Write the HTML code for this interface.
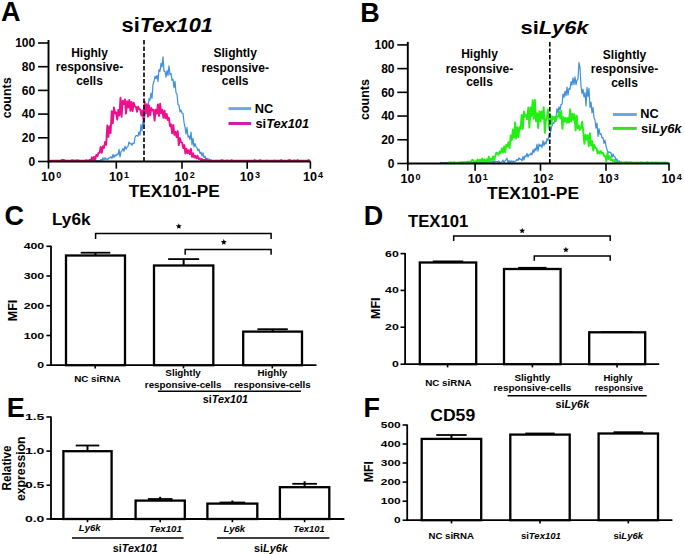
<!DOCTYPE html>
<html><head><meta charset="utf-8"><style>
html,body{margin:0;padding:0;background:#fff;}
svg{display:block;}
svg text{font-family:"Liberation Sans", sans-serif;fill:#000;}
</style></head><body>
<svg width="685" height="554" viewBox="0 0 685 554">
<rect width="685" height="554" fill="#fff"/>
<text x="1.00" y="20.60" font-size="27" text-anchor="start" font-weight="bold"><tspan>A</tspan></text>
<text x="121.50" y="31.90" font-size="19.5" text-anchor="start" font-weight="bold" textLength="91.50" lengthAdjust="spacingAndGlyphs"><tspan>si</tspan><tspan font-style="italic">Tex101</tspan></text>
<polyline points="80.00,160.70 81.00,160.70 82.00,160.70 83.00,160.70 84.00,160.70 85.00,160.70 86.00,160.29 87.00,160.70 88.00,160.70 89.00,160.46 90.00,160.05 91.00,160.70 92.00,159.91 93.00,160.70 94.00,160.70 95.00,160.70 96.00,160.69 97.00,160.70 98.00,160.55 99.00,160.64 100.00,160.70 101.00,159.39 102.00,160.70 103.00,157.77 104.00,160.13 105.00,157.65 106.00,159.45 107.00,158.66 108.00,159.50 109.00,157.81 110.00,157.88 111.00,156.76 112.00,158.37 113.00,154.40 114.00,157.51 115.00,154.87 116.00,156.04 117.00,154.08 118.00,154.90 119.00,149.41 120.00,157.02 121.00,151.41 122.00,150.81 123.00,148.37 124.00,151.42 125.00,146.08 126.00,149.19 127.00,146.97 128.00,146.41 129.00,141.87 130.00,144.11 131.00,143.30 132.00,145.24 133.00,143.07 134.00,143.72 135.00,137.34 136.00,135.68 137.00,135.50 138.00,136.24 139.00,131.86 140.00,135.22 141.00,124.63 142.00,131.09 143.00,121.03 144.00,124.59 145.00,114.38 146.00,110.48 147.00,104.80 148.00,109.75 149.00,98.63 150.00,100.23 151.00,93.05 152.00,98.47 153.00,84.35 154.00,81.28 155.00,76.33 156.00,78.73 157.00,75.28 158.00,81.37 159.00,69.59 160.00,71.35 161.00,63.40 162.00,66.98 163.00,56.75 164.00,71.30 165.00,71.26 166.00,77.09 167.00,70.57 168.00,75.40 169.00,65.80 170.00,74.72 171.00,73.36 172.00,80.33 173.00,79.23 174.00,87.65 175.00,81.28 176.00,92.78 177.00,94.41 178.00,104.58 179.00,105.13 180.00,111.90 181.00,109.96 182.00,113.19 183.00,113.44 184.00,122.14 185.00,127.34 186.00,134.01 187.00,127.44 188.00,137.10 189.00,135.98 190.00,139.68 191.00,131.99 192.00,144.81 193.00,138.22 194.00,146.89 195.00,143.49 196.00,146.86 197.00,147.81 198.00,150.71 199.00,149.17 200.00,153.67 201.00,152.18 202.00,156.17 203.00,152.83 204.00,157.52 205.00,156.16 206.00,159.48 207.00,158.51 208.00,159.53 209.00,158.86 210.00,160.70 211.00,159.63 212.00,160.70 213.00,160.70 214.00,160.70 215.00,160.70 216.00,160.35 217.00,160.70 218.00,160.70 219.00,160.70 220.00,160.70 221.00,160.21 222.00,160.70 223.00,160.08 224.00,160.54 225.00,160.70 226.00,160.70 227.00,160.70 228.00,160.70" fill="none" stroke="#3f8fdc" stroke-width="1.2" stroke-linejoin="round"/>
<polyline points="49.00,160.70 50.10,160.70 51.20,160.70 52.30,160.69 53.40,160.70 54.50,160.70 55.60,160.70 56.70,160.70 57.80,160.70 58.90,160.70 60.00,160.70 61.10,160.35 62.20,159.98 63.30,160.04 64.40,160.15 65.50,160.70 66.60,160.70 67.70,160.70 68.80,160.65 69.90,160.70 71.00,160.70 72.10,159.91 73.20,160.70 74.30,160.36 75.40,160.45 76.50,160.70 77.60,160.14 78.70,160.56 79.80,160.70 80.90,160.70 82.00,160.70 83.10,160.70 84.20,160.70 85.30,160.70 86.40,160.12 87.50,160.70 88.60,160.70 89.70,159.88 90.80,160.70 91.90,157.32 93.00,160.70 94.10,156.80 95.20,159.84 96.30,154.85 97.40,156.27 98.50,152.95 99.60,152.80 100.70,146.92 101.80,152.91 102.90,146.29 104.00,147.91 105.10,141.88 106.20,144.80 107.30,125.37 108.40,136.82 109.50,126.19 110.60,133.12 111.70,111.31 112.80,123.36 113.90,107.55 115.00,113.25 116.10,112.29 117.20,119.66 118.30,109.92 119.40,115.43 120.50,97.65 121.60,116.69 122.70,100.75 123.80,104.00 124.90,99.36 126.00,113.64 127.10,101.32 128.20,107.50 129.30,99.87 130.40,110.79 131.50,101.87 132.60,111.11 133.70,102.71 134.80,106.40 135.90,106.90 137.00,111.71 138.10,106.61 139.20,109.25 140.30,109.53 141.40,115.48 142.50,110.49 143.60,120.29 144.70,102.02 145.80,113.49 146.90,104.31 148.00,116.55 149.10,105.43 150.20,115.32 151.30,107.89 152.40,110.57 153.50,109.64 154.60,120.67 155.70,109.60 156.80,113.64 157.90,104.43 159.00,115.93 160.10,103.72 161.20,113.31 162.30,109.62 163.40,117.79 164.50,110.62 165.60,118.41 166.70,113.87 167.80,120.14 168.90,117.85 170.00,126.24 171.10,124.38 172.20,133.33 173.30,124.96 174.40,134.86 175.50,131.82 176.60,137.17 177.70,131.06 178.80,145.07 179.90,138.07 181.00,142.01 182.10,142.54 183.20,148.12 184.30,145.08 185.40,153.52 186.50,148.75 187.60,153.19 188.70,150.21 189.80,154.18 190.90,148.83 192.00,156.88 193.10,153.15 194.20,157.56 195.30,155.76 196.40,158.33 197.50,155.73 198.60,158.96 199.70,158.29 200.80,160.09 201.90,159.01 203.00,160.70 204.10,159.68 205.20,160.70 206.30,159.03 207.40,160.70 208.50,160.70 209.60,160.70 210.70,160.70 211.80,160.70 212.90,160.70 214.00,160.70 215.10,160.70 216.20,160.70 217.30,160.70 218.40,160.70 219.50,160.70 220.60,160.70 221.70,160.16 222.80,160.50 223.90,160.70 225.00,160.70 226.10,160.70 227.20,160.35 228.30,160.70 229.40,160.70 230.50,160.70 231.60,160.19 232.70,160.70 233.80,160.70 234.90,160.70 236.00,160.70 237.10,160.70 238.20,160.70 239.30,160.70 240.40,160.70 241.50,160.70 242.60,160.70 243.70,160.70 244.80,160.70 245.90,160.70 247.00,160.70 248.10,160.70 249.20,160.70 250.30,160.70 251.40,160.70 252.50,160.70 253.60,160.70 254.70,159.99 255.80,160.70 256.90,160.70 258.00,160.70 259.10,160.70 260.20,160.03 261.30,160.70 262.40,160.70 263.50,160.70 264.60,160.70 265.70,160.66 266.80,160.45 267.90,160.60 269.00,160.70 270.10,160.70 271.20,160.70 272.30,160.70 273.40,160.70 274.50,160.52 275.60,160.70 276.70,160.70 277.80,160.70 278.90,160.70 280.00,160.70 281.10,159.97 282.20,160.70 283.30,160.70 284.40,160.70 285.50,160.70 286.60,160.70 287.70,160.70 288.80,160.21 289.90,160.03 291.00,160.70 292.10,160.70 293.20,160.70 294.30,160.30 295.40,160.70 296.50,160.70 297.60,159.96 298.70,160.70 299.80,160.70 300.90,160.70 302.00,160.70 303.10,160.70 304.20,160.70 305.30,160.70 306.40,160.70 307.50,160.70 308.60,160.06 309.70,160.70" fill="none" stroke="#ee0f8c" stroke-width="1.9" stroke-linejoin="round"/>
<line x1="48.50" y1="40.00" x2="48.50" y2="162.40" stroke="#000" stroke-width="1.9" />
<line x1="47.60" y1="161.50" x2="310.60" y2="161.50" stroke="#000" stroke-width="1.9" />
<line x1="38.00" y1="161.50" x2="48.50" y2="161.50" stroke="#000" stroke-width="1.6" />
<text x="35.20" y="165.80" font-size="12" text-anchor="end" font-weight="bold"><tspan>0</tspan></text>
<line x1="38.00" y1="137.80" x2="48.50" y2="137.80" stroke="#000" stroke-width="1.6" />
<text x="35.20" y="142.10" font-size="12" text-anchor="end" font-weight="bold"><tspan>20</tspan></text>
<line x1="38.00" y1="114.10" x2="48.50" y2="114.10" stroke="#000" stroke-width="1.6" />
<text x="35.20" y="118.40" font-size="12" text-anchor="end" font-weight="bold"><tspan>40</tspan></text>
<line x1="38.00" y1="90.40" x2="48.50" y2="90.40" stroke="#000" stroke-width="1.6" />
<text x="35.20" y="94.70" font-size="12" text-anchor="end" font-weight="bold"><tspan>60</tspan></text>
<line x1="38.00" y1="66.70" x2="48.50" y2="66.70" stroke="#000" stroke-width="1.6" />
<text x="35.20" y="71.00" font-size="12" text-anchor="end" font-weight="bold"><tspan>80</tspan></text>
<line x1="38.00" y1="43.00" x2="48.50" y2="43.00" stroke="#000" stroke-width="1.6" />
<text x="35.20" y="47.30" font-size="12" text-anchor="end" font-weight="bold"><tspan>100</tspan></text>
<line x1="48.50" y1="161.50" x2="48.50" y2="168.70" stroke="#000" stroke-width="1.6" />
<text x="41.10" y="181.20" font-size="13" text-anchor="start" font-weight="bold" textLength="14.00" lengthAdjust="spacingAndGlyphs"><tspan>10</tspan></text>
<text x="56.20" y="177.60" font-size="9" text-anchor="start" font-weight="bold"><tspan>0</tspan></text>
<line x1="116.30" y1="161.50" x2="116.30" y2="168.70" stroke="#000" stroke-width="1.6" />
<text x="108.90" y="181.20" font-size="13" text-anchor="start" font-weight="bold" textLength="14.00" lengthAdjust="spacingAndGlyphs"><tspan>10</tspan></text>
<text x="124.00" y="177.60" font-size="9" text-anchor="start" font-weight="bold"><tspan>1</tspan></text>
<line x1="182.00" y1="161.50" x2="182.00" y2="168.70" stroke="#000" stroke-width="1.6" />
<text x="174.60" y="181.20" font-size="13" text-anchor="start" font-weight="bold" textLength="14.00" lengthAdjust="spacingAndGlyphs"><tspan>10</tspan></text>
<text x="189.70" y="177.60" font-size="9" text-anchor="start" font-weight="bold"><tspan>2</tspan></text>
<line x1="247.20" y1="161.50" x2="247.20" y2="168.70" stroke="#000" stroke-width="1.6" />
<text x="239.80" y="181.20" font-size="13" text-anchor="start" font-weight="bold" textLength="14.00" lengthAdjust="spacingAndGlyphs"><tspan>10</tspan></text>
<text x="254.90" y="177.60" font-size="9" text-anchor="start" font-weight="bold"><tspan>3</tspan></text>
<line x1="310.40" y1="161.50" x2="310.40" y2="168.70" stroke="#000" stroke-width="1.6" />
<text x="303.00" y="181.20" font-size="13" text-anchor="start" font-weight="bold" textLength="14.00" lengthAdjust="spacingAndGlyphs"><tspan>10</tspan></text>
<text x="318.10" y="177.60" font-size="9" text-anchor="start" font-weight="bold"><tspan>4</tspan></text>
<line x1="144.00" y1="40.00" x2="144.00" y2="161.50" stroke="#000" stroke-width="1.6" stroke-dasharray="4.6 1.9"/>
<line x1="228.50" y1="108.60" x2="251.20" y2="108.60" stroke="#6fa5e2" stroke-width="3" />
<line x1="228.50" y1="123.50" x2="251.20" y2="123.50" stroke="#d01fb0" stroke-width="3" />
<text x="254.70" y="112.50" font-size="12.8" text-anchor="start" font-weight="bold"><tspan>NC</tspan></text>
<text x="255.50" y="127.70" font-size="12.8" text-anchor="start" font-weight="bold" textLength="53.50" lengthAdjust="spacingAndGlyphs"><tspan>si</tspan><tspan font-style="italic">Tex101</tspan></text>
<text x="89.50" y="56.50" font-size="12" text-anchor="middle" font-weight="bold"><tspan>Highly</tspan></text>
<text x="89.50" y="70.50" font-size="12" text-anchor="middle" font-weight="bold"><tspan>responsive-</tspan></text>
<text x="89.50" y="84.60" font-size="12" text-anchor="middle" font-weight="bold"><tspan>cells</tspan></text>
<text x="235.20" y="57.30" font-size="12" text-anchor="middle" font-weight="bold"><tspan>Slightly</tspan></text>
<text x="235.20" y="71.50" font-size="12" text-anchor="middle" font-weight="bold"><tspan>responsive-</tspan></text>
<text x="235.20" y="85.00" font-size="12" text-anchor="middle" font-weight="bold"><tspan>cells</tspan></text>
<text x="128.80" y="197.40" font-size="16" text-anchor="start" font-weight="bold" textLength="91.00" lengthAdjust="spacingAndGlyphs"><tspan>TEX101-PE</tspan></text>
<text x="11.20" y="97.80" font-size="12.5" text-anchor="middle" font-weight="bold" transform="rotate(-90 11.20 97.80)"><tspan>counts</tspan></text>
<text x="360.20" y="21.90" font-size="27" text-anchor="start" font-weight="bold"><tspan>B</tspan></text>
<text x="520.50" y="33.60" font-size="18.5" text-anchor="start" font-weight="bold" textLength="68.00" lengthAdjust="spacingAndGlyphs"><tspan>si</tspan><tspan font-style="italic">Ly6k</tspan></text>
<polyline points="440.00,162.15 441.00,162.70 442.00,162.70 443.00,162.70 444.00,162.70 445.00,162.70 446.00,162.70 447.00,162.70 448.00,162.70 449.00,162.40 450.00,162.70 451.00,162.06 452.00,162.70 453.00,162.70 454.00,161.90 455.00,162.70 456.00,162.70 457.00,162.70 458.00,162.44 459.00,162.70 460.00,161.94 461.00,162.70 462.00,162.05 463.00,161.96 464.00,162.70 465.00,162.70 466.00,162.70 467.00,162.70 468.00,162.67 469.00,162.70 470.00,162.70 471.00,162.70 472.00,162.70 473.00,162.70 474.00,162.70 475.00,162.70 476.00,162.70 477.00,162.70 478.00,162.70 479.00,162.13 480.00,162.70 481.00,161.90 482.00,162.70 483.00,161.97 484.00,162.70 485.00,160.52 486.00,162.70 487.00,162.00 488.00,162.70 489.00,161.93 490.00,162.30 491.00,160.96 492.00,162.70 493.00,160.45 494.00,162.70 495.00,160.80 496.00,162.07 497.00,161.57 498.00,162.37 499.00,160.96 500.00,162.70 501.00,162.38 502.00,161.64 503.00,160.12 504.00,162.40 505.00,160.78 506.00,159.97 507.00,158.03 508.00,162.64 509.00,160.53 510.00,162.70 511.00,160.68 512.00,162.04 513.00,160.85 514.00,162.27 515.00,161.08 516.00,161.03 517.00,159.40 518.00,160.28 519.00,157.84 520.00,159.45 521.00,159.06 522.00,160.87 523.00,156.43 524.00,160.04 525.00,155.73 526.00,156.83 527.00,153.42 528.00,157.10 529.00,154.34 530.00,154.91 531.00,153.04 532.00,154.98 533.00,149.65 534.00,152.65 535.00,148.34 536.00,150.66 537.00,144.22 538.00,151.16 539.00,143.97 540.00,146.50 541.00,144.73 542.00,147.63 543.00,140.53 544.00,145.92 545.00,141.97 546.00,144.10 547.00,138.66 548.00,140.77 549.00,133.86 550.00,133.50 551.00,129.75 552.00,125.72 553.00,122.58 554.00,123.44 555.00,117.11 556.00,116.77 557.00,108.67 558.00,112.66 559.00,106.77 560.00,110.13 561.00,104.64 562.00,104.23 563.00,93.97 564.00,97.40 565.00,91.25 566.00,95.91 567.00,87.01 568.00,95.13 569.00,88.43 570.00,89.32 571.00,81.60 572.00,85.02 573.00,77.86 574.00,84.62 575.00,76.85 576.00,84.77 577.00,80.25 578.00,78.93 579.00,62.67 580.00,67.69 581.00,86.08 582.00,93.63 583.00,89.18 584.00,96.98 585.00,92.60 586.00,105.90 587.00,87.35 588.00,96.67 589.00,88.43 590.00,107.47 591.00,102.13 592.00,112.93 593.00,107.31 594.00,117.70 595.00,120.08 596.00,128.16 597.00,123.01 598.00,136.47 599.00,128.69 600.00,134.42 601.00,133.74 602.00,137.79 603.00,137.61 604.00,143.36 605.00,140.07 606.00,146.22 607.00,149.58 608.00,152.97 609.00,151.73 610.00,152.49 611.00,152.68 612.00,157.58 613.00,153.88 614.00,156.65 615.00,156.56 616.00,160.48 617.00,158.82 618.00,162.66 619.00,160.67 620.00,162.30 621.00,161.96 622.00,162.61 623.00,162.48 624.00,162.70 625.00,162.00 626.00,162.70 627.00,162.12 628.00,162.70 629.00,162.70 630.00,162.70 631.00,162.70 632.00,162.70" fill="none" stroke="#3f8fdc" stroke-width="1.2" stroke-linejoin="round"/>
<polyline points="448.00,162.70 449.10,162.68 450.20,162.70 451.30,162.60 452.40,162.70 453.50,162.70 454.60,162.70 455.70,162.70 456.80,162.70 457.90,162.70 459.00,162.70 460.10,162.70 461.20,162.70 462.30,162.70 463.40,162.70 464.50,161.98 465.60,162.70 466.70,161.77 467.80,162.57 468.90,161.58 470.00,162.70 471.10,161.33 472.20,159.67 473.30,160.57 474.40,162.70 475.50,161.14 476.60,161.93 477.70,159.43 478.80,162.70 479.90,159.71 481.00,162.16 482.10,158.42 483.20,161.57 484.30,159.32 485.40,162.54 486.50,159.28 487.60,162.49 488.70,156.75 489.80,161.57 490.90,158.78 492.00,159.43 493.10,156.44 494.20,159.65 495.30,156.04 496.40,152.66 497.50,153.37 498.60,154.83 499.70,151.46 500.80,152.87 501.90,148.43 503.00,152.37 504.10,146.47 505.20,152.21 506.30,144.72 507.40,146.58 508.50,142.11 509.60,148.08 510.70,135.39 511.80,140.26 512.90,129.41 514.00,137.70 515.10,122.41 516.20,138.59 517.30,127.32 518.40,137.09 519.50,127.14 520.60,128.63 521.70,114.84 522.80,128.91 523.90,111.54 525.00,116.66 526.10,115.08 527.20,119.38 528.30,107.56 529.40,127.62 530.50,107.52 531.60,116.15 532.70,100.19 533.80,118.75 534.90,99.87 536.00,121.25 537.10,113.23 538.20,127.97 539.30,111.28 540.40,121.44 541.50,111.53 542.60,118.91 543.70,107.32 544.80,132.87 545.90,119.87 547.00,116.70 548.10,109.32 549.20,128.83 550.30,114.68 551.40,123.86 552.50,116.47 553.60,118.97 554.70,117.02 555.80,121.16 556.90,116.38 558.00,116.88 559.10,111.42 560.20,118.37 561.30,110.85 562.40,128.89 563.50,117.25 564.60,121.70 565.70,117.82 566.80,122.70 567.90,117.95 569.00,122.55 570.10,109.29 571.20,121.36 572.30,113.60 573.40,119.91 574.50,114.28 575.60,130.37 576.70,115.71 577.80,128.42 578.90,125.86 580.00,129.91 581.10,127.69 582.20,121.66 583.30,132.12 584.40,143.85 585.50,134.84 586.60,139.86 587.70,135.18 588.80,146.24 589.90,133.26 591.00,145.21 592.10,141.08 593.20,150.45 594.30,144.82 595.40,147.89 596.50,148.32 597.60,153.45 598.70,151.34 599.80,153.48 600.90,151.10 602.00,153.51 603.10,152.95 604.20,156.27 605.30,156.17 606.40,161.32 607.50,153.04 608.60,159.08 609.70,156.28 610.80,160.18 611.90,159.64 613.00,161.20 614.10,159.75 615.20,162.05 616.30,161.76 617.40,162.70 618.50,162.07 619.60,162.70 620.70,162.53 621.80,162.50 622.90,162.70 624.00,162.70 625.10,162.70 626.20,162.31 627.30,162.70 628.40,162.37 629.50,162.70 630.60,162.13 631.70,162.70 632.80,162.70 633.90,162.70 635.00,162.70 636.10,162.70 637.20,162.29 638.30,162.70 639.40,162.70 640.50,162.57 641.60,162.27 642.70,162.70 643.80,162.70 644.90,162.70 646.00,162.70 647.10,162.22 648.20,162.70 649.30,162.70 650.40,162.70 651.50,162.70 652.60,162.45 653.70,162.70 654.80,162.70 655.90,162.36 657.00,162.70 658.10,162.61 659.20,162.70 660.30,162.70 661.40,162.70 662.50,162.70 663.60,162.70 664.70,162.46 665.80,162.70 666.90,162.70 668.00,162.70" fill="none" stroke="#22f014" stroke-width="1.9" stroke-linejoin="round"/>
<line x1="407.80" y1="41.90" x2="407.80" y2="164.40" stroke="#000" stroke-width="1.9" />
<line x1="406.90" y1="163.50" x2="669.50" y2="163.50" stroke="#000" stroke-width="1.9" />
<line x1="397.30" y1="163.50" x2="407.80" y2="163.50" stroke="#000" stroke-width="1.6" />
<text x="394.50" y="167.80" font-size="12" text-anchor="end" font-weight="bold"><tspan>0</tspan></text>
<line x1="397.30" y1="139.78" x2="407.80" y2="139.78" stroke="#000" stroke-width="1.6" />
<text x="394.50" y="144.08" font-size="12" text-anchor="end" font-weight="bold"><tspan>20</tspan></text>
<line x1="397.30" y1="116.06" x2="407.80" y2="116.06" stroke="#000" stroke-width="1.6" />
<text x="394.50" y="120.36" font-size="12" text-anchor="end" font-weight="bold"><tspan>40</tspan></text>
<line x1="397.30" y1="92.34" x2="407.80" y2="92.34" stroke="#000" stroke-width="1.6" />
<text x="394.50" y="96.64" font-size="12" text-anchor="end" font-weight="bold"><tspan>60</tspan></text>
<line x1="397.30" y1="68.62" x2="407.80" y2="68.62" stroke="#000" stroke-width="1.6" />
<text x="394.50" y="72.92" font-size="12" text-anchor="end" font-weight="bold"><tspan>80</tspan></text>
<line x1="397.30" y1="44.90" x2="407.80" y2="44.90" stroke="#000" stroke-width="1.6" />
<text x="394.50" y="49.20" font-size="12" text-anchor="end" font-weight="bold"><tspan>100</tspan></text>
<line x1="407.80" y1="163.50" x2="407.80" y2="170.70" stroke="#000" stroke-width="1.6" />
<text x="400.40" y="183.20" font-size="13" text-anchor="start" font-weight="bold" textLength="14.00" lengthAdjust="spacingAndGlyphs"><tspan>10</tspan></text>
<text x="415.50" y="179.60" font-size="9" text-anchor="start" font-weight="bold"><tspan>0</tspan></text>
<line x1="475.10" y1="163.50" x2="475.10" y2="170.70" stroke="#000" stroke-width="1.6" />
<text x="467.70" y="183.20" font-size="13" text-anchor="start" font-weight="bold" textLength="14.00" lengthAdjust="spacingAndGlyphs"><tspan>10</tspan></text>
<text x="482.80" y="179.60" font-size="9" text-anchor="start" font-weight="bold"><tspan>1</tspan></text>
<line x1="540.50" y1="163.50" x2="540.50" y2="170.70" stroke="#000" stroke-width="1.6" />
<text x="533.10" y="183.20" font-size="13" text-anchor="start" font-weight="bold" textLength="14.00" lengthAdjust="spacingAndGlyphs"><tspan>10</tspan></text>
<text x="548.20" y="179.60" font-size="9" text-anchor="start" font-weight="bold"><tspan>2</tspan></text>
<line x1="606.00" y1="163.50" x2="606.00" y2="170.70" stroke="#000" stroke-width="1.6" />
<text x="598.60" y="183.20" font-size="13" text-anchor="start" font-weight="bold" textLength="14.00" lengthAdjust="spacingAndGlyphs"><tspan>10</tspan></text>
<text x="613.70" y="179.60" font-size="9" text-anchor="start" font-weight="bold"><tspan>3</tspan></text>
<line x1="669.00" y1="163.50" x2="669.00" y2="170.70" stroke="#000" stroke-width="1.6" />
<text x="661.60" y="183.20" font-size="13" text-anchor="start" font-weight="bold" textLength="14.00" lengthAdjust="spacingAndGlyphs"><tspan>10</tspan></text>
<text x="676.70" y="179.60" font-size="9" text-anchor="start" font-weight="bold"><tspan>4</tspan></text>
<line x1="549.80" y1="41.90" x2="549.80" y2="163.50" stroke="#000" stroke-width="1.6" stroke-dasharray="4.6 1.9"/>
<line x1="612.90" y1="114.50" x2="636.80" y2="114.50" stroke="#6fa5e2" stroke-width="3" />
<line x1="612.90" y1="128.40" x2="636.80" y2="128.40" stroke="#33e022" stroke-width="3" />
<text x="640.30" y="118.40" font-size="12.8" text-anchor="start" font-weight="bold"><tspan>NC</tspan></text>
<text x="641.10" y="132.60" font-size="12.8" text-anchor="start" font-weight="bold" textLength="40.50" lengthAdjust="spacingAndGlyphs"><tspan>si</tspan><tspan font-style="italic">Ly6k</tspan></text>
<text x="479.50" y="58.30" font-size="12" text-anchor="middle" font-weight="bold"><tspan>Highly</tspan></text>
<text x="479.50" y="72.50" font-size="12" text-anchor="middle" font-weight="bold"><tspan>responsive-</tspan></text>
<text x="479.50" y="86.20" font-size="12" text-anchor="middle" font-weight="bold"><tspan>cells</tspan></text>
<text x="624.50" y="59.20" font-size="12" text-anchor="middle" font-weight="bold"><tspan>Slightly</tspan></text>
<text x="624.50" y="73.20" font-size="12" text-anchor="middle" font-weight="bold"><tspan>responsive-</tspan></text>
<text x="624.50" y="86.80" font-size="12" text-anchor="middle" font-weight="bold"><tspan>cells</tspan></text>
<text x="487.00" y="199.20" font-size="16" text-anchor="start" font-weight="bold" textLength="92.00" lengthAdjust="spacingAndGlyphs"><tspan>TEX101-PE</tspan></text>
<text x="369.00" y="99.50" font-size="12.5" text-anchor="middle" font-weight="bold" transform="rotate(-90 369.00 99.50)"><tspan>counts</tspan></text>
<text x="4.50" y="225.40" font-size="27" text-anchor="start" font-weight="bold"><tspan>C</tspan></text>
<text x="52.00" y="225.00" font-size="17" text-anchor="start" font-weight="bold" textLength="38.50" lengthAdjust="spacingAndGlyphs"><tspan>Ly6k</tspan></text>
<line x1="51.00" y1="245.80" x2="51.00" y2="366.10" stroke="#000" stroke-width="1.8" />
<line x1="50.10" y1="365.20" x2="316.50" y2="365.20" stroke="#000" stroke-width="1.8" />
<line x1="46.40" y1="246.30" x2="51.00" y2="246.30" stroke="#000" stroke-width="1.6" />
<text x="44.20" y="249.30" font-size="8.3" text-anchor="end" font-weight="bold" textLength="20.55" lengthAdjust="spacingAndGlyphs"><tspan>400</tspan></text>
<line x1="46.40" y1="276.00" x2="51.00" y2="276.00" stroke="#000" stroke-width="1.6" />
<text x="44.20" y="279.00" font-size="8.3" text-anchor="end" font-weight="bold" textLength="20.55" lengthAdjust="spacingAndGlyphs"><tspan>300</tspan></text>
<line x1="46.40" y1="305.70" x2="51.00" y2="305.70" stroke="#000" stroke-width="1.6" />
<text x="44.20" y="308.70" font-size="8.3" text-anchor="end" font-weight="bold" textLength="20.55" lengthAdjust="spacingAndGlyphs"><tspan>200</tspan></text>
<line x1="46.40" y1="335.50" x2="51.00" y2="335.50" stroke="#000" stroke-width="1.6" />
<text x="44.20" y="338.50" font-size="8.3" text-anchor="end" font-weight="bold" textLength="20.55" lengthAdjust="spacingAndGlyphs"><tspan>100</tspan></text>
<line x1="46.40" y1="365.20" x2="51.00" y2="365.20" stroke="#000" stroke-width="1.6" />
<text x="44.20" y="368.20" font-size="8.3" text-anchor="end" font-weight="bold" textLength="6.85" lengthAdjust="spacingAndGlyphs"><tspan>0</tspan></text>
<line x1="95.50" y1="252.70" x2="95.50" y2="255.50" stroke="#000" stroke-width="2.0" />
<line x1="80.70" y1="252.70" x2="110.30" y2="252.70" stroke="#000" stroke-width="1.8" />
<rect x="66.00" y="255.50" width="59.00" height="109.70" fill="#fff" stroke="#000" stroke-width="2.3"/>
<line x1="183.65" y1="259.10" x2="183.65" y2="265.50" stroke="#000" stroke-width="2.0" />
<line x1="168.15" y1="259.10" x2="199.15" y2="259.10" stroke="#000" stroke-width="1.8" />
<rect x="154.00" y="265.50" width="59.30" height="99.70" fill="#fff" stroke="#000" stroke-width="2.3"/>
<line x1="272.60" y1="329.20" x2="272.60" y2="331.60" stroke="#000" stroke-width="2.0" />
<line x1="257.40" y1="329.20" x2="287.80" y2="329.20" stroke="#000" stroke-width="1.8" />
<rect x="243.20" y="331.60" width="58.80" height="33.60" fill="#fff" stroke="#000" stroke-width="2.3"/>
<line x1="95.20" y1="365.20" x2="95.20" y2="368.40" stroke="#000" stroke-width="1.6" />
<line x1="183.50" y1="365.20" x2="183.50" y2="368.40" stroke="#000" stroke-width="1.6" />
<line x1="272.30" y1="365.20" x2="272.30" y2="368.40" stroke="#000" stroke-width="1.6" />
<polyline points="95.60,238.90 95.60,233.60 271.10,233.60 271.10,238.90" fill="none" stroke="#000" stroke-width="1.5" />
<polyline points="185.20,254.70 185.20,249.40 271.10,249.40 271.10,254.70" fill="none" stroke="#000" stroke-width="1.5" />
<polygon points="178.80,223.20 179.64,225.15 181.75,225.34 180.16,226.74 180.62,228.81 178.80,227.73 176.98,228.81 177.44,226.74 175.85,225.34 177.96,225.15" fill="#000"/>
<polygon points="223.80,239.10 224.64,241.05 226.75,241.24 225.16,242.64 225.62,244.71 223.80,243.63 221.98,244.71 222.44,242.64 220.85,241.24 222.96,241.05" fill="#000"/>
<text x="97.40" y="382.30" font-size="9.6" text-anchor="middle" font-weight="bold" textLength="46.50" lengthAdjust="spacingAndGlyphs"><tspan>NC siRNA</tspan></text>
<text x="183.10" y="376.30" font-size="9.9" text-anchor="middle" font-weight="bold" textLength="35.50" lengthAdjust="spacingAndGlyphs"><tspan>Slightly</tspan></text>
<text x="183.10" y="387.80" font-size="9.9" text-anchor="middle" font-weight="bold" textLength="76.50" lengthAdjust="spacingAndGlyphs"><tspan>responsive-cells</tspan></text>
<text x="272.40" y="376.30" font-size="9.9" text-anchor="middle" font-weight="bold" textLength="29.80" lengthAdjust="spacingAndGlyphs"><tspan>Highly</tspan></text>
<text x="272.40" y="387.80" font-size="9.9" text-anchor="middle" font-weight="bold" textLength="76.70" lengthAdjust="spacingAndGlyphs"><tspan>responsive-cells</tspan></text>
<line x1="157.90" y1="391.20" x2="300.90" y2="391.20" stroke="#000" stroke-width="1.5" />
<text x="225.40" y="402.60" font-size="10.3" text-anchor="middle" font-weight="bold" textLength="45.30" lengthAdjust="spacingAndGlyphs"><tspan>si</tspan><tspan font-style="italic">Tex101</tspan></text>
<text x="16.90" y="310.50" font-size="12.5" text-anchor="middle" font-weight="bold" textLength="21.50" lengthAdjust="spacingAndGlyphs" transform="rotate(-90 16.90 310.50)"><tspan>MFI</tspan></text>
<text x="363.80" y="224.80" font-size="27" text-anchor="start" font-weight="bold"><tspan>D</tspan></text>
<text x="408.00" y="226.50" font-size="16.3" text-anchor="start" font-weight="bold" textLength="60.30" lengthAdjust="spacingAndGlyphs"><tspan>TEX101</tspan></text>
<line x1="405.10" y1="253.00" x2="405.10" y2="365.10" stroke="#000" stroke-width="1.8" />
<line x1="404.20" y1="364.20" x2="659.20" y2="364.20" stroke="#000" stroke-width="1.8" />
<line x1="400.50" y1="253.60" x2="405.10" y2="253.60" stroke="#000" stroke-width="1.6" />
<text x="398.80" y="256.60" font-size="8.3" text-anchor="end" font-weight="bold" textLength="13.70" lengthAdjust="spacingAndGlyphs"><tspan>60</tspan></text>
<line x1="400.50" y1="290.40" x2="405.10" y2="290.40" stroke="#000" stroke-width="1.6" />
<text x="398.80" y="293.40" font-size="8.3" text-anchor="end" font-weight="bold" textLength="13.70" lengthAdjust="spacingAndGlyphs"><tspan>40</tspan></text>
<line x1="400.50" y1="327.20" x2="405.10" y2="327.20" stroke="#000" stroke-width="1.6" />
<text x="398.80" y="330.20" font-size="8.3" text-anchor="end" font-weight="bold" textLength="13.70" lengthAdjust="spacingAndGlyphs"><tspan>20</tspan></text>
<line x1="400.50" y1="364.20" x2="405.10" y2="364.20" stroke="#000" stroke-width="1.6" />
<text x="398.80" y="367.20" font-size="8.3" text-anchor="end" font-weight="bold" textLength="6.85" lengthAdjust="spacingAndGlyphs"><tspan>0</tspan></text>
<line x1="448.00" y1="261.40" x2="448.00" y2="262.50" stroke="#000" stroke-width="2.0" />
<line x1="432.80" y1="261.40" x2="463.20" y2="261.40" stroke="#000" stroke-width="1.8" />
<rect x="419.80" y="262.50" width="56.40" height="101.70" fill="#fff" stroke="#000" stroke-width="2.3"/>
<line x1="532.30" y1="267.80" x2="532.30" y2="269.00" stroke="#000" stroke-width="2.0" />
<line x1="518.10" y1="267.80" x2="546.50" y2="267.80" stroke="#000" stroke-width="1.8" />
<rect x="504.00" y="269.00" width="56.60" height="95.20" fill="#fff" stroke="#000" stroke-width="2.3"/>
<rect x="589.20" y="332.30" width="56.00" height="31.90" fill="#fff" stroke="#000" stroke-width="2.3"/>
<line x1="601.20" y1="331.80" x2="633.20" y2="331.80" stroke="#000" stroke-width="1.2" />
<line x1="447.60" y1="364.20" x2="447.60" y2="367.40" stroke="#000" stroke-width="1.6" />
<line x1="532.40" y1="364.20" x2="532.40" y2="367.40" stroke="#000" stroke-width="1.6" />
<line x1="617.10" y1="364.20" x2="617.10" y2="367.40" stroke="#000" stroke-width="1.6" />
<polyline points="453.70,241.00 453.70,235.90 610.20,235.90 610.20,241.00" fill="none" stroke="#000" stroke-width="1.5" />
<polyline points="534.30,260.80 534.30,255.90 610.20,255.90 610.20,260.80" fill="none" stroke="#000" stroke-width="1.5" />
<polygon points="522.20,227.70 523.04,229.65 525.15,229.84 523.56,231.24 524.02,233.31 522.20,232.23 520.38,233.31 520.84,231.24 519.25,229.84 521.36,229.65" fill="#000"/>
<polygon points="565.90,246.70 566.74,248.65 568.85,248.84 567.26,250.24 567.72,252.31 565.90,251.23 564.08,252.31 564.54,250.24 562.95,248.84 565.06,248.65" fill="#000"/>
<text x="448.40" y="385.50" font-size="9.6" text-anchor="middle" font-weight="bold" textLength="46.50" lengthAdjust="spacingAndGlyphs"><tspan>NC siRNA</tspan></text>
<text x="532.40" y="380.80" font-size="9.9" text-anchor="middle" font-weight="bold" textLength="35.90" lengthAdjust="spacingAndGlyphs"><tspan>Slightly</tspan></text>
<text x="532.40" y="391.30" font-size="9.9" text-anchor="middle" font-weight="bold" textLength="77.80" lengthAdjust="spacingAndGlyphs"><tspan>responsive-cells</tspan></text>
<text x="618.00" y="380.80" font-size="9.9" text-anchor="middle" font-weight="bold" textLength="29.20" lengthAdjust="spacingAndGlyphs"><tspan>Highly</tspan></text>
<text x="618.90" y="391.30" font-size="9.9" text-anchor="middle" font-weight="bold" textLength="48.50" lengthAdjust="spacingAndGlyphs"><tspan>responsive</tspan></text>
<line x1="507.50" y1="395.80" x2="646.70" y2="395.80" stroke="#000" stroke-width="1.5" />
<text x="572.30" y="407.80" font-size="10.3" text-anchor="middle" font-weight="bold" textLength="33.80" lengthAdjust="spacingAndGlyphs"><tspan>si</tspan><tspan font-style="italic">Ly6k</tspan></text>
<text x="380.30" y="308.20" font-size="12.5" text-anchor="middle" font-weight="bold" textLength="21.60" lengthAdjust="spacingAndGlyphs" transform="rotate(-90 380.30 308.20)"><tspan>MFI</tspan></text>
<text x="6.80" y="416.60" font-size="27" text-anchor="start" font-weight="bold"><tspan>E</tspan></text>
<line x1="51.00" y1="416.50" x2="51.00" y2="519.90" stroke="#000" stroke-width="1.8" />
<line x1="50.10" y1="519.00" x2="344.40" y2="519.00" stroke="#000" stroke-width="1.8" />
<line x1="46.40" y1="417.00" x2="51.00" y2="417.00" stroke="#000" stroke-width="1.6" />
<text x="44.40" y="420.00" font-size="8.3" text-anchor="end" font-weight="bold" textLength="19.50" lengthAdjust="spacingAndGlyphs"><tspan>1.5</tspan></text>
<line x1="46.40" y1="451.10" x2="51.00" y2="451.10" stroke="#000" stroke-width="1.6" />
<text x="44.40" y="454.10" font-size="8.3" text-anchor="end" font-weight="bold" textLength="19.50" lengthAdjust="spacingAndGlyphs"><tspan>1.0</tspan></text>
<line x1="46.40" y1="485.20" x2="51.00" y2="485.20" stroke="#000" stroke-width="1.6" />
<text x="44.40" y="488.20" font-size="8.3" text-anchor="end" font-weight="bold" textLength="19.50" lengthAdjust="spacingAndGlyphs"><tspan>0.5</tspan></text>
<line x1="46.40" y1="519.00" x2="51.00" y2="519.00" stroke="#000" stroke-width="1.6" />
<text x="44.40" y="522.00" font-size="8.3" text-anchor="end" font-weight="bold" textLength="19.50" lengthAdjust="spacingAndGlyphs"><tspan>0.0</tspan></text>
<line x1="87.50" y1="445.50" x2="87.50" y2="451.20" stroke="#000" stroke-width="2.0" />
<line x1="75.70" y1="445.50" x2="99.30" y2="445.50" stroke="#000" stroke-width="1.8" />
<rect x="63.40" y="451.20" width="48.20" height="67.80" fill="#fff" stroke="#000" stroke-width="2.3"/>
<line x1="160.20" y1="496.80" x2="160.20" y2="500.60" stroke="#000" stroke-width="2.0" />
<line x1="147.90" y1="499.00" x2="172.50" y2="499.00" stroke="#000" stroke-width="1.8" />
<rect x="135.60" y="500.60" width="49.20" height="18.40" fill="#fff" stroke="#000" stroke-width="2.3"/>
<line x1="232.35" y1="500.50" x2="232.35" y2="503.60" stroke="#000" stroke-width="2.0" />
<line x1="219.55" y1="502.50" x2="245.15" y2="502.50" stroke="#000" stroke-width="1.8" />
<rect x="207.40" y="503.60" width="49.90" height="15.40" fill="#fff" stroke="#000" stroke-width="2.3"/>
<line x1="304.60" y1="481.30" x2="304.60" y2="487.20" stroke="#000" stroke-width="2.0" />
<line x1="292.30" y1="483.80" x2="316.90" y2="483.80" stroke="#000" stroke-width="1.8" />
<rect x="279.90" y="487.20" width="49.40" height="31.80" fill="#fff" stroke="#000" stroke-width="2.3"/>
<line x1="87.50" y1="519.00" x2="87.50" y2="522.20" stroke="#000" stroke-width="1.6" />
<line x1="160.20" y1="519.00" x2="160.20" y2="522.20" stroke="#000" stroke-width="1.6" />
<line x1="232.40" y1="519.00" x2="232.40" y2="522.20" stroke="#000" stroke-width="1.6" />
<line x1="304.60" y1="519.00" x2="304.60" y2="522.20" stroke="#000" stroke-width="1.6" />
<text x="89.70" y="531.30" font-size="8.6" text-anchor="middle" font-weight="bold" textLength="21.80" lengthAdjust="spacingAndGlyphs"><tspan font-style="italic">Ly6k</tspan></text>
<text x="165.60" y="531.80" font-size="8.6" text-anchor="middle" font-weight="bold" textLength="32.50" lengthAdjust="spacingAndGlyphs"><tspan font-style="italic">Tex101</tspan></text>
<text x="234.30" y="531.50" font-size="8.6" text-anchor="middle" font-weight="bold" textLength="21.80" lengthAdjust="spacingAndGlyphs"><tspan font-style="italic">Ly6k</tspan></text>
<text x="309.00" y="531.80" font-size="8.6" text-anchor="middle" font-weight="bold" textLength="31.50" lengthAdjust="spacingAndGlyphs"><tspan font-style="italic">Tex101</tspan></text>
<line x1="72.00" y1="538.00" x2="183.60" y2="538.00" stroke="#000" stroke-width="1.5" />
<line x1="217.00" y1="538.00" x2="329.40" y2="538.00" stroke="#000" stroke-width="1.5" />
<text x="135.30" y="551.50" font-size="10.6" text-anchor="middle" font-weight="bold" textLength="45.00" lengthAdjust="spacingAndGlyphs"><tspan>si</tspan><tspan font-style="italic">Tex101</tspan></text>
<text x="270.90" y="551.50" font-size="10.6" text-anchor="middle" font-weight="bold" textLength="33.60" lengthAdjust="spacingAndGlyphs"><tspan>si</tspan><tspan font-style="italic">Ly6k</tspan></text>
<text x="10.70" y="467.90" font-size="12" text-anchor="middle" font-weight="bold" textLength="45.00" lengthAdjust="spacingAndGlyphs" transform="rotate(-90 10.70 467.90)"><tspan>Relative</tspan></text>
<text x="24.70" y="468.70" font-size="12" text-anchor="middle" font-weight="bold" textLength="64.60" lengthAdjust="spacingAndGlyphs" transform="rotate(-90 24.70 468.70)"><tspan>expression</tspan></text>
<text x="363.50" y="417.20" font-size="27" text-anchor="start" font-weight="bold"><tspan>F</tspan></text>
<text x="430.20" y="421.20" font-size="17" text-anchor="start" font-weight="bold" textLength="45.00" lengthAdjust="spacingAndGlyphs"><tspan>CD59</tspan></text>
<line x1="407.20" y1="424.50" x2="407.20" y2="521.10" stroke="#000" stroke-width="1.8" />
<line x1="406.30" y1="520.20" x2="672.40" y2="520.20" stroke="#000" stroke-width="1.8" />
<line x1="402.60" y1="425.00" x2="407.20" y2="425.00" stroke="#000" stroke-width="1.6" />
<text x="400.60" y="428.00" font-size="8.3" text-anchor="end" font-weight="bold" textLength="19.80" lengthAdjust="spacingAndGlyphs"><tspan>500</tspan></text>
<line x1="402.60" y1="444.00" x2="407.20" y2="444.00" stroke="#000" stroke-width="1.6" />
<text x="400.60" y="447.00" font-size="8.3" text-anchor="end" font-weight="bold" textLength="19.80" lengthAdjust="spacingAndGlyphs"><tspan>400</tspan></text>
<line x1="402.60" y1="463.00" x2="407.20" y2="463.00" stroke="#000" stroke-width="1.6" />
<text x="400.60" y="466.00" font-size="8.3" text-anchor="end" font-weight="bold" textLength="19.80" lengthAdjust="spacingAndGlyphs"><tspan>300</tspan></text>
<line x1="402.60" y1="482.10" x2="407.20" y2="482.10" stroke="#000" stroke-width="1.6" />
<text x="400.60" y="485.10" font-size="8.3" text-anchor="end" font-weight="bold" textLength="19.80" lengthAdjust="spacingAndGlyphs"><tspan>200</tspan></text>
<line x1="402.60" y1="501.20" x2="407.20" y2="501.20" stroke="#000" stroke-width="1.6" />
<text x="400.60" y="504.20" font-size="8.3" text-anchor="end" font-weight="bold" textLength="19.80" lengthAdjust="spacingAndGlyphs"><tspan>100</tspan></text>
<line x1="402.60" y1="520.20" x2="407.20" y2="520.20" stroke="#000" stroke-width="1.6" />
<text x="400.60" y="523.20" font-size="8.3" text-anchor="end" font-weight="bold" textLength="6.60" lengthAdjust="spacingAndGlyphs"><tspan>0</tspan></text>
<line x1="451.45" y1="435.00" x2="451.45" y2="438.90" stroke="#000" stroke-width="2.0" />
<line x1="436.25" y1="435.00" x2="466.65" y2="435.00" stroke="#000" stroke-width="1.8" />
<rect x="421.70" y="438.90" width="59.50" height="81.30" fill="#fff" stroke="#000" stroke-width="2.3"/>
<line x1="540.00" y1="433.50" x2="540.00" y2="434.60" stroke="#000" stroke-width="2.0" />
<line x1="525.20" y1="433.50" x2="554.80" y2="433.50" stroke="#000" stroke-width="1.8" />
<rect x="510.30" y="434.60" width="59.40" height="85.60" fill="#fff" stroke="#000" stroke-width="2.3"/>
<line x1="628.30" y1="432.20" x2="628.30" y2="433.50" stroke="#000" stroke-width="2.0" />
<line x1="613.50" y1="432.20" x2="643.10" y2="432.20" stroke="#000" stroke-width="1.8" />
<rect x="598.60" y="433.50" width="59.40" height="86.70" fill="#fff" stroke="#000" stroke-width="2.3"/>
<line x1="451.50" y1="520.20" x2="451.50" y2="523.40" stroke="#000" stroke-width="1.6" />
<line x1="540.00" y1="520.20" x2="540.00" y2="523.40" stroke="#000" stroke-width="1.6" />
<line x1="628.30" y1="520.20" x2="628.30" y2="523.40" stroke="#000" stroke-width="1.6" />
<text x="451.20" y="539.00" font-size="9.4" text-anchor="middle" font-weight="bold" textLength="45.50" lengthAdjust="spacingAndGlyphs"><tspan>NC siRNA</tspan></text>
<text x="540.90" y="539.40" font-size="9.4" text-anchor="middle" font-weight="bold" textLength="40.00" lengthAdjust="spacingAndGlyphs"><tspan>si</tspan><tspan font-style="italic">Tex101</tspan></text>
<text x="628.30" y="539.40" font-size="9.4" text-anchor="middle" font-weight="bold" textLength="29.80" lengthAdjust="spacingAndGlyphs"><tspan>si</tspan><tspan font-style="italic">Ly6k</tspan></text>
<text x="373.10" y="471.70" font-size="12.5" text-anchor="middle" font-weight="bold" textLength="21.30" lengthAdjust="spacingAndGlyphs" transform="rotate(-90 373.10 471.70)"><tspan>MFI</tspan></text>
</svg>
</body></html>
